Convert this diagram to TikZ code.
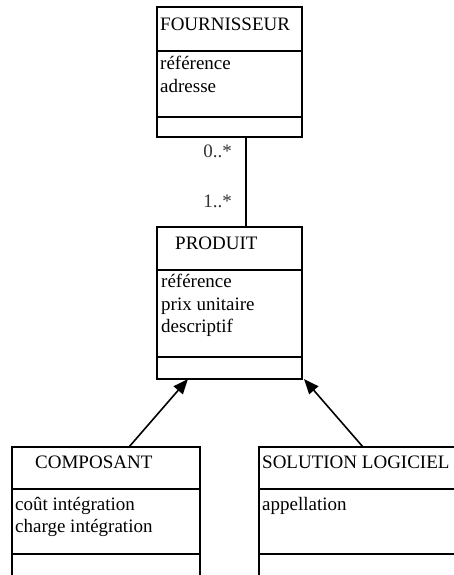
\documentclass[tikz,border=0pt]{standalone}
\usepackage{fontspec}
\setmainfont{Liberation Serif}
\usetikzlibrary{arrows.meta, positioning}

\begin{document}
\begin{tikzpicture}[
    x=1pt, y=-1pt,
    % ── Class boxes and texts ──
    classbox/.style={rectangle, draw=black, line width=1.6pt, anchor=north west,
                     inner sep=0pt, outer sep=0pt},
    divider/.style={line width=2.4pt},
    cname/.style={anchor=base west, inner sep=0pt, font=\fontsize{19}{23}\selectfont},
    mult/.style={anchor=base east, inner sep=0pt, text=black!80,
                 font=\fontsize{19}{23}\selectfont},
    assoc/.style={line width=1.6pt},
    inherit/.style={-{Triangle[length=15pt, width=12pt]}, line width=1.6pt}
]
\useasboundingbox (0,0) rectangle (454,575);
\clip (0,0) rectangle (454,575);

% ═══ FOURNISSEUR ═══
\node[classbox, minimum width=145, minimum height=130] (fourn) at (157,7) {};
\draw[divider] (fourn.west |- 0,51)  -- (fourn.east |- 0,51);
\draw[divider] (fourn.west |- 0,117) -- (fourn.east |- 0,117);
\node[cname] (fourn-t)  at (160,31) {FOURNISSEUR};
\node[cname] (fourn-a1) at (160,70) {référence};
\node[cname] (fourn-a2) at (160,93) {adresse};

% ═══ PRODUIT ═══
\node[classbox, minimum width=145, minimum height=152] (prod) at (157,227) {};
\draw[divider] (prod.west |- 0,270) -- (prod.east |- 0,270);
\draw[divider] (prod.west |- 0,357) -- (prod.east |- 0,357);
\node[cname] (prod-t)  at (175,249) {PRODUIT};
\node[cname] (prod-a1) at (161,287) {référence};
\node[cname] (prod-a2) at (161,310) {prix unitaire};
\node[cname] (prod-a3) at (161,332) {descriptif};

% ═══ COMPOSANT ═══
\node[classbox, minimum width=188, minimum height=150] (comp) at (12,447) {};
\draw[divider] (comp.west |- 0,489) -- (comp.east |- 0,489);
\draw[divider] (comp.west |- 0,554) -- (comp.east |- 0,554);
\node[cname] (comp-t)  at (35,468) {COMPOSANT};
\node[cname] (comp-a1) at (15,510) {coût intégration};
\node[cname] (comp-a2) at (15,532) {charge intégration};

% ═══ SOLUTION LOGICIEL ═══
\node[classbox, minimum width=210, minimum height=150] (sol) at (259,447) {};
\draw[divider] (sol.west |- 0,489) -- (sol.east |- 0,489);
\draw[divider] (sol.west |- 0,554) -- (sol.east |- 0,554);
\node[cname] (sol-t)  at (262,468) {SOLUTION LOGICIEL};
\node[cname] (sol-a1) at (262,510) {appellation};

% ═══ Association ═══
\draw[assoc] (fourn.south -| 246,0) -- (prod.north -| 246,0);
\node[mult] (m-fourn) at (232,157) {0..*};
\node[mult] (m-prod)  at (232,207) {1..*};

% ═══ Inheritance ═══
\draw[inherit] (comp.north -| 129,0) -- (prod.south -| 188,0);
\draw[inherit] (sol.north -| 363,0)  -- (prod.south -| 304,0);

\end{tikzpicture}
\end{document}
